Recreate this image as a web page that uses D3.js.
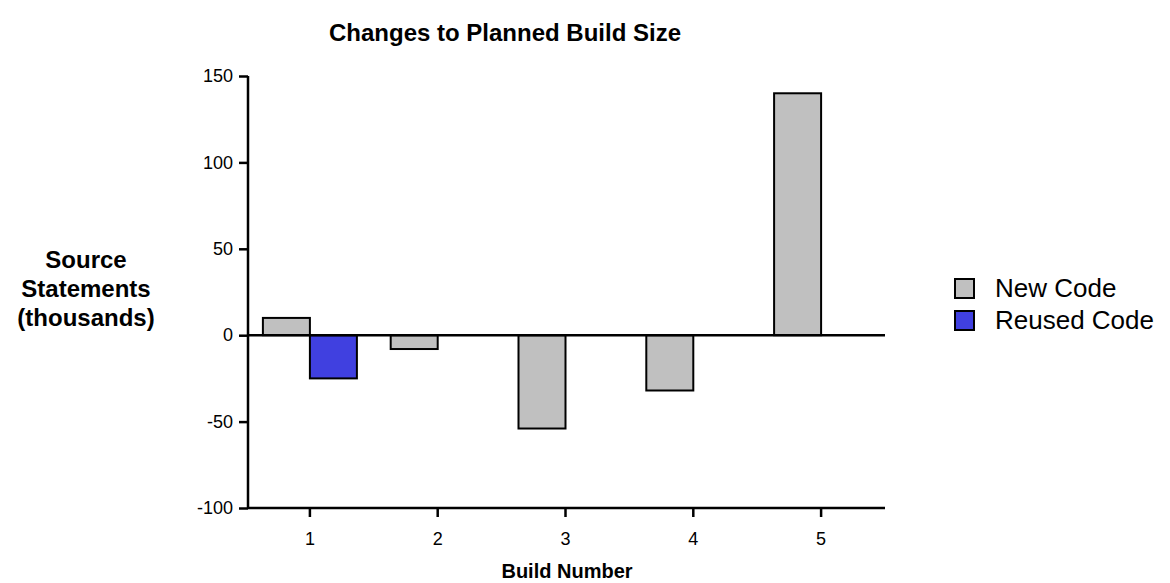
<!DOCTYPE html>
<html><head><meta charset="utf-8">
<script src="https://cdn.jsdelivr.net/npm/d3@7"></script>
<style>body{margin:0;background:#fff}svg{display:block;font-family:"Liberation Sans",Arial,sans-serif}</style>
</head><body><svg id="c" width="1170" height="583"></svg>
<script>
const builds = ["1","2","3","4","5"];
const seriesNames = ["New Code","Reused Code"];
const newCode = [10, -8, -54, -32, 140];
const reusedCode = [-25, null, null, null, null];
const yTicks = [-100, -50, 0, 50, 100, 150];
const colors = ["#c0c0c0", "#4040e0"];

const svg = d3.select("#c");
const m = {l:248, r:885, t:76, b:508};
const x = d3.scaleBand().domain(builds).range([m.l - 2, m.r]);
const y = d3.scaleLinear().domain([-100,150]).range([m.b, m.t]);
const bw = 47;

const series = [newCode, reusedCode];
series.forEach((vals, si) => {
  svg.append("g").selectAll("rect").data(builds.map((b,i)=>({b, v: vals[i]})).filter(d=>d.v!=null))
    .join("rect")
    .attr("x", d => x(d.b) + x.bandwidth()/2 + (si===0 ? -bw : 0))
    .attr("width", bw)
    .attr("y", d => y(Math.max(0,d.v)))
    .attr("height", d => Math.abs(y(d.v)-y(0)))
    .attr("fill", colors[si]).attr("stroke","#000").attr("stroke-width",2);
});

svg.append("line").attr("x1", m.l).attr("x2", m.r).attr("y1", y(0)).attr("y2", y(0)).attr("stroke","#000").attr("stroke-width",2.5);

const yAx = svg.append("g").attr("transform",`translate(${m.l},0)`)
  .call(d3.axisLeft(y).tickValues(yTicks).tickFormat(d => String(d)).tickSize(9).tickPadding(6));
const xAx = svg.append("g").attr("transform",`translate(0,${m.b})`)
  .call(d3.axisBottom(x).tickSize(9).tickPadding(15).tickSizeOuter(0));
[yAx,xAx].forEach(a=>{
  a.attr("font-size",null).attr("font-family",null);
  a.selectAll("path,line").attr("stroke","#000").attr("stroke-width",2.5);
  a.selectAll("text").style("font-size","18px").attr("fill","#000");
});
yAx.select(".domain").attr("d", `M0,${m.t}V${m.b}`);
xAx.select(".domain").attr("d", `M${m.l},0H${m.r}`);

svg.append("text").attr("x",505).attr("y",41).attr("text-anchor","middle")
  .style("font-size","24px").attr("font-weight","bold").text("Changes to Planned Build Size");
svg.append("text").attr("x",567).attr("y",578).attr("text-anchor","middle")
  .style("font-size","20px").attr("font-weight","bold").text("Build Number");
const yl = svg.append("text").attr("text-anchor","middle").style("font-size","24px").attr("font-weight","bold");
["Source","Statements","(thousands)"].forEach((t,i)=>yl.append("tspan").attr("x",86).attr("y",268+i*29).text(t));

const lg = svg.append("g");
seriesNames.forEach((n,i)=>{
  lg.append("rect").attr("x",955).attr("y",279+i*32).attr("width",19).attr("height",19)
    .attr("fill",colors[i]).attr("stroke","#000").attr("stroke-width",2);
  lg.append("text").attr("x",995).attr("y",297+i*32).style("font-size","26px").text(n);
});
</script></body></html>
